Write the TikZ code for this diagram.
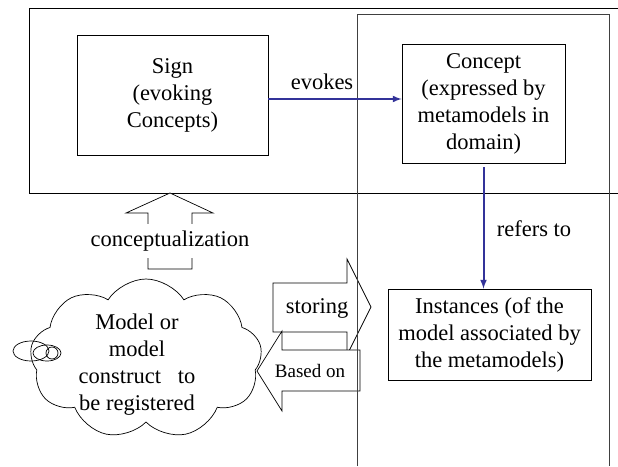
\documentclass[tikz,border=0pt]{standalone}
\usepackage{fontspec}
\setmainfont{Liberation Serif}
\usepackage{tikz}
\usetikzlibrary{calc,arrows,shapes.symbols}

\definecolor{flowblue}{RGB}{51,51,153}

\begin{document}
\begin{tikzpicture}[x=1pt,y=-1pt,
    every node/.style={font=\rmfamily\fontsize{22.5}{27}\selectfont,align=center,inner sep=0pt},
    box/.style={draw,line width=0.8pt,inner sep=0pt},
    flow/.style={draw=flowblue,line width=2pt,-latex},
    blockarrow/.style={draw,fill=white,line width=0.7pt}]
                      \useasboundingbox (0,0) rectangle (618,466);
                      % frames
                      \draw[line width=0.8pt] (618,8) -- (29,8) -- (29,193) -- (618,193);
                      % block arrows
                      \draw[blockarrow] (148,269) -- (148,213) -- (126,213) -- (170,193) -- (213,213) -- (192,213) -- (192,269) -- cycle;
                      \node[fill=white,inner xsep=2pt,inner ysep=7pt](concz)at(170,241){conceptualization};
                      \draw[blockarrow] (273,283) -- (347,283) -- (347,259) -- (371,307) -- (347,355) -- (347,332) -- (273,332) -- cycle;
                      \node(stor)at(317,308){storing};
                      \draw[blockarrow] (257,371) -- (282,331) -- (282,350) -- (360,350) -- (360,391) -- (282,391) -- (282,411) -- cycle;
                      \node[font=\rmfamily\fontsize{19}{23}\selectfont](based)at(310,371){Based on};
                      \draw[line width=0.8pt,color=black!75] (357,466) -- (357,14) -- (609,14) -- (609,466);
                      % boxes
                      \node[box,minimum width=191,minimum height=120](sign)at(172.5,95){Sign\\(evoking\\Concepts)};
                      \node[box,minimum width=163,minimum height=119](concept)at(483.5,103.5){Concept\\(expressed by\\metamodels in\\domain)};
                      \node[box,minimum width=203,minimum height=91](inst)at(489.5,334.5){Instances (of the\\model associated by\\the metamodels)};
                      % cloud
                      \node[cloud,draw,line width=0.7pt,cloud puffs=9,cloud puff arc=115,minimum width=232,minimum height=160](mdl)at(146,359){};
                      \node(mdltext)at(137,365){Model or\\model\\construct~~ to\\be registered};
                      \draw[line width=0.7pt] (31,351) ellipse (18 and 10);
                      \draw[line width=0.7pt] (47,353) ellipse (14 and 8);
                      \draw[line width=0.7pt] (52,353) circle (6);
                      % relations
                      \coordinate (evk) at ([yshift=-4pt]sign.east);
                      \draw[flow] (evk) -- (evk -| concept.west);
                      \node(evl)at(322,82){evokes};
                      \draw[flow,shorten <=4pt] (concept.south) -- (concept.south |- inst.north);
                      \node(ref)at(534,229){refers to};
                  \end{tikzpicture}
\end{document}
